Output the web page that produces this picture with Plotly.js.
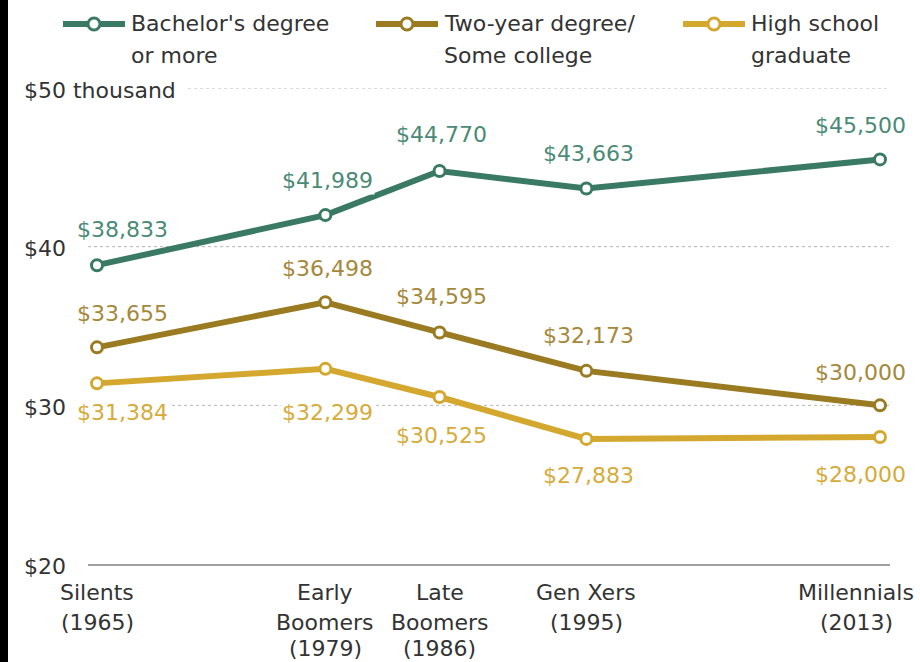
<!DOCTYPE html>
<html><head><meta charset="utf-8">
<script src="https://cdn.plot.ly/plotly-3.0.1.min.js"></script>
<style>html,body{margin:0;padding:0;background:#fff;} #chart{width:920px;height:662px;}</style>
</head><body><div id="chart"></div>
<script>
// ---- data ----
const years = [1965, 1979, 1986, 1995, 2013];
const generationLabels = [
  ["Silents", "(1965)"],
  ["Early", "Boomers", "(1979)"],
  ["Late", "Boomers", "(1986)"],
  ["Gen Xers", "(1995)"],
  ["Millennials", "(2013)"]
];
const bachelors = [38.833, 41.989, 44.770, 43.663, 45.500];
const twoYear = [33.655, 36.498, 34.595, 32.173, 30.000];
const highSchool = [31.384, 32.299, 30.525, 27.883, 28.000];
const seriesNames = [
  ["Bachelor's degree", "or more"],
  ["Two-year degree/", "Some college"],
  ["High school", "graduate"]
];
const yTickVals = [20, 30, 40, 50];
const yTickText = ["$20", "$30", "$40", "$50 thousand"];

// ---- styling / layout ----
const W = 920, H = 662, L = 88, R = 30, T = 88, B = 98;
const plotW = W - L - R, plotH = H - T - B;
const pxX = p => (p - L) / plotW;
const pxY = p => (H - B - p) / plotH;
const FONT = "DejaVu Sans";
const TXT = "#333333";

const series = [
  { y: bachelors, color: "#3a7a65", labelColor: "#4a8a76", dy: [36, 35, 36, 35, 34] },
  { y: twoYear, color: "#9a7b21", labelColor: "#a6883a", dy: [34, 34, 36, 35, 33] },
  { y: highSchool, color: "#d4a82e", labelColor: "#d6ab3a", dy: [-29, -44, -38, -37, -37] }
];

const traces = series.map((s, i) => ({
  x: years, y: s.y, type: "scatter", mode: "lines+markers",
  name: seriesNames[i].join(" "),
  line: { color: s.color, width: 6 },
  marker: { symbol: "circle", size: 11, color: "#ffffff", line: { color: s.color, width: 3 } },
  hoverinfo: "skip", cliponaxis: false
}));

const fmt = v => "$" + Math.round(v * 1000).toLocaleString("en-US");

const annotations = [];
series.forEach(s => {
  s.y.forEach((v, j) => {
    const last = j === s.y.length - 1;
    annotations.push({
      x: years[j], y: v, xref: "x", yref: "y", text: fmt(v), showarrow: false,
      xanchor: j === 0 ? "left" : (last ? "right" : "center"),
      xshift: j === 0 ? -22 : (last ? 28 : 2),
      yanchor: "middle", yshift: s.dy[j],
      font: { family: FONT, size: 22, color: s.labelColor },
      bgcolor: "#ffffff", borderpad: 1
    });
  });
});

// y-axis labels (left aligned)
yTickVals.forEach((v, i) => {
  annotations.push({
    x: pxX(22), y: v, xref: "paper", yref: "y", text: yTickText[i], showarrow: false,
    xanchor: "left", yanchor: "middle", yshift: -2,
    font: { family: FONT, size: 22, color: TXT }
  });
});

// x-axis category labels
const lineCenters = [592, 622, 648];
generationLabels.forEach((lines, j) => {
  const last = j === generationLabels.length - 1;
  lines.forEach((t, k) => {
    annotations.push({
      x: years[j], y: pxY(lineCenters[k]), xref: "x", yref: "paper", text: t, showarrow: false,
      xanchor: "center", xshift: last ? -24 : 0, yanchor: "middle",
      font: { family: FONT, size: 22, color: TXT }
    });
  });
});

// legend (custom)
const legendX = [63, 376, 683];
const shapes = [];
legendX.forEach((lx, i) => {
  const c = series[i].color;
  shapes.push({ type: "line", xref: "paper", yref: "paper", x0: pxX(lx), x1: pxX(lx + 62), y0: pxY(24), y1: pxY(24),
    line: { color: c, width: 6 } });
  shapes.push({ type: "circle", xref: "paper", yref: "paper", x0: pxX(lx + 31 - 6), x1: pxX(lx + 31 + 6),
    y0: pxY(24 + 6), y1: pxY(24 - 6), fillcolor: "#ffffff", line: { color: c, width: 3 } });
  seriesNames[i].forEach((t, k) => {
    annotations.push({
      x: pxX(lx + 66), y: pxY(23 + 32 * k), xref: "paper", yref: "paper", text: t, showarrow: false,
      xanchor: "left", yanchor: "middle", font: { family: FONT, size: 22, color: TXT }
    });
  });
});

// gridlines
yTickVals.slice(1).forEach(v => {
  shapes.push({ type: "line", xref: "paper", yref: "y", layer: "below",
    x0: v === 50 ? pxX(188) : 0, x1: 1, y0: v, y1: v,
    line: { color: "#b5b5b5", width: 1, dash: "dot" } });
});

// left dark strip
shapes.push({ type: "rect", xref: "paper", yref: "paper", x0: pxX(0), x1: pxX(8), y0: pxY(H), y1: pxY(0),
  fillcolor: "#000000", line: { width: 0 } });

const layout = {
  width: W, height: H,
  margin: { l: L, r: R, t: T, b: B, pad: 0 },
  paper_bgcolor: "#ffffff", plot_bgcolor: "#ffffff",
  showlegend: false,
  xaxis: { range: [1965 - 9 / 16.3125, 2013 + 10 / 16.3125], showgrid: false, zeroline: false,
    showticklabels: false, ticks: "", showline: true, linecolor: "#a0a0a0", linewidth: 2, fixedrange: true },
  yaxis: { range: [20, 50], showgrid: false, zeroline: false, showticklabels: false, ticks: "",
    showline: false, fixedrange: true },
  annotations: annotations,
  shapes: shapes,
  font: { family: FONT, color: TXT }
};

Plotly.newPlot("chart", traces, layout, { displayModeBar: false, staticPlot: true });
</script>
</body></html>
